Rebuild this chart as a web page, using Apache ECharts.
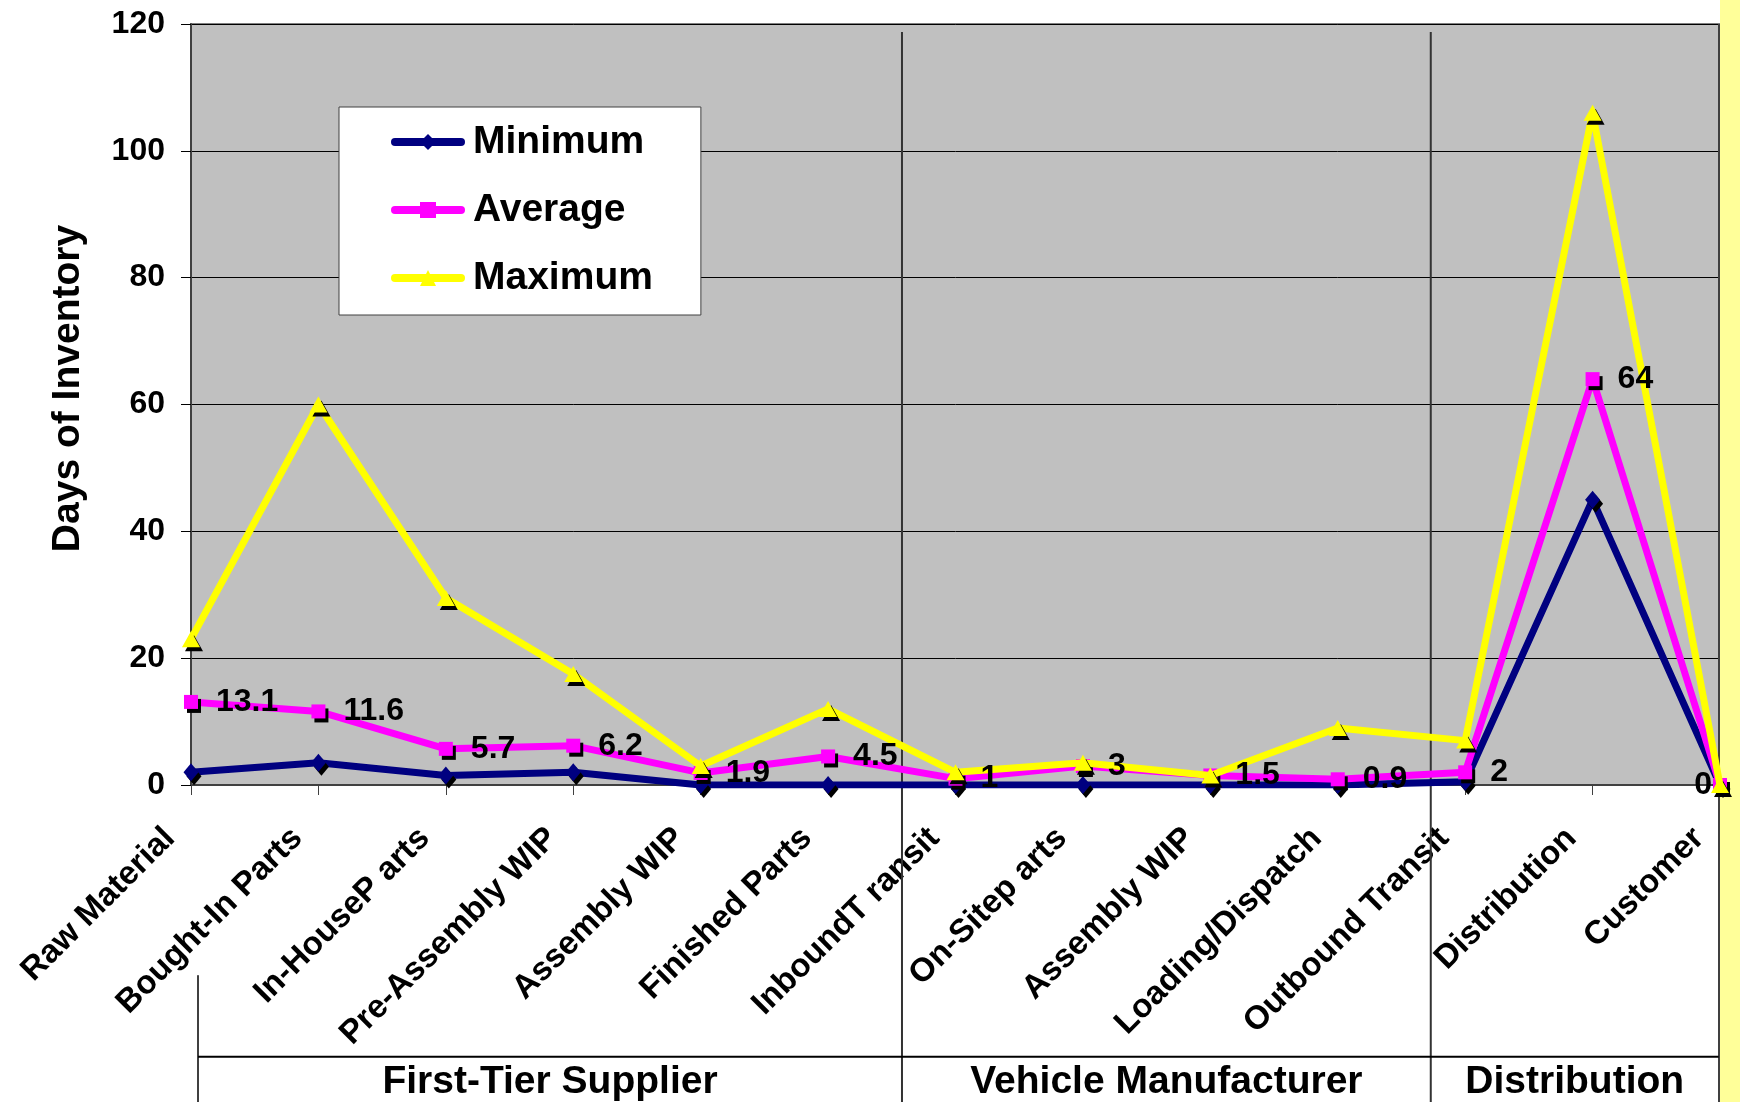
<!DOCTYPE html>
<html>
<head>
<meta charset="utf-8">
<script src="https://cdn.jsdelivr.net/npm/echarts@6/dist/echarts.min.js"></script>
<style>
html,body{margin:0;padding:0;background:#fff;}
#c{width:1740px;height:1102px;}
</style>
</head>
<body>
<div id="c"></div>
<script>
const categories = ['Raw Material','Bought-In Parts','In-HouseP arts','Pre-Assembly WIP','Assembly WIP','Finished Parts','InboundT ransit','On-Sitep arts','Assembly WIP','Loading/Dispatch','Outbound Transit','Distribution','Customer'];
const minimum = [2, 3.5, 1.5, 2, 0, 0, 0, 0, 0, 0, 0.5, 45, 0];
const average = [13.1, 11.6, 5.7, 6.2, 1.9, 4.5, 1, 3, 1.5, 0.9, 2, 64, 0];
const maximum = [23, 60, 29.5, 17.5, 3, 12, 2, 3.5, 1.5, 9, 7, 106, 0];
const yTicks = [0, 20, 40, 60, 80, 100, 120];
const groupNames = ['First-Tier Supplier', 'Vehicle Manufacturer', 'Distribution'];
const groupBounds = [0.055, 5.58, 9.73, 11.99];

const FONT = "'Liberation Sans', Arial, sans-serif";
const chart = echarts.init(document.getElementById('c'), null, {renderer: 'canvas'});

const shadow = {shadowColor: '#000', shadowBlur: 0, shadowOffsetX: 3, shadowOffsetY: 4};
const labelStyle = {fontSize: 32, fontWeight: 'bold', color: '#000', fontFamily: FONT, opacity: 1};

const option = {
  backgroundColor: '#ffffff',
  animation: false,
  grid: {
    left: 191, right: 20, top: 24, bottom: 317,
    show: true, backgroundColor: '#C0C0C0', borderColor: '#808080', borderWidth: 2
  },
  legend: {
    orient: 'vertical',
    left: 339, top: 107,
    backgroundColor: '#ffffff',
    borderColor: '#404040', borderWidth: 1,
    padding: [15, 48, 17, 52],
    itemGap: 28,
    itemWidth: 66, itemHeight: 20,
    lineStyle: {width: 8, cap: 'round'},
    itemStyle: {shadowColor: 'rgba(0,0,0,0)', shadowOffsetX: 0, shadowOffsetY: 0},
    textStyle: {fontSize: 39, fontWeight: 'bold', color: '#000', fontFamily: FONT, lineHeight: 40, padding: [0, 0, 0, 7]},
    data: ['Minimum', 'Average', 'Maximum']
  },
  xAxis: {
    type: 'category',
    data: categories,
    boundaryGap: false,
    axisLine: {show: true, lineStyle: {color: '#404040', width: 2}},
    axisTick: {show: true, length: 10, lineStyle: {color: '#404040', width: 1}},
    axisLabel: {
      interval: 0, rotate: 45, margin: 27,
      fontSize: 33, fontWeight: 'bold', color: '#000', fontFamily: FONT,
      padding: [0, 30, 0, 0]
    },
    splitLine: {show: false}
  },
  yAxis: {
    type: 'value',
    min: yTicks[0], max: yTicks[yTicks.length - 1], interval: 20,
    name: 'Days of Inventory',
    nameLocation: 'middle',
    nameGap: 103,
    nameTextStyle: {fontSize: 39, fontWeight: 'bold', color: '#000', fontFamily: FONT, padding: [0, 0, 0, 32]},
    axisLine: {show: true, lineStyle: {color: '#404040', width: 2}},
    axisTick: {show: true, length: 10, lineStyle: {color: '#000', width: 1}},
    axisLabel: {margin: 26, fontSize: 32, fontWeight: 'bold', color: '#000', fontFamily: FONT},
    splitLine: {show: true, lineStyle: {color: '#000', width: 1}}
  },
  series: [
    {
      name: 'Minimum', type: 'line', data: minimum,
      symbol: 'diamond', symbolSize: [15, 18],
      lineStyle: {color: '#000080', width: 7},
      itemStyle: Object.assign({color: '#000080'}, shadow),
      z: 2
    },
    {
      name: 'Average', type: 'line', data: average,
      symbol: 'rect', symbolSize: 14,
      lineStyle: {color: '#FF00FF', width: 7},
      itemStyle: Object.assign({color: '#FF00FF'}, shadow),
      z: 3
    },
    {
      name: 'Maximum', type: 'line', data: maximum,
      symbol: 'triangle', symbolSize: [18, 16],
      lineStyle: {color: '#FFFF00', width: 7},
      itemStyle: Object.assign({color: '#FFFF00'}, shadow),
      z: 4
    },
    {
      name: 'Average labels', type: 'line',
      data: average.map((v, i) => i === average.length - 1 ? {value: v, label: {position: 'left', distance: 1}} : v),
      symbol: 'rect', symbolSize: 14,
      showAllSymbol: true,
      lineStyle: {color: 'rgba(0,0,0,0)', width: 0},
      itemStyle: {color: 'rgba(0,0,0,0)', borderWidth: 0},
      label: Object.assign({show: true, position: 'right', distance: 18, formatter: '{c}'}, labelStyle),
      silent: true,
      z: 6
    }
  ]
};
chart.setOption(option);

function decor() {
  const x0 = chart.convertToPixel({xAxisIndex: 0}, 0);
  const x12 = chart.convertToPixel({xAxisIndex: 0}, 12);
  const step = (x12 - x0) / 12;
  const yTop = chart.convertToPixel({yAxisIndex: 0}, 120);
  const yBot = chart.convertToPixel({yAxisIndex: 0}, 0);
  const W = chart.getWidth(), H = chart.getHeight();
  const below = H - yBot;
  const xs = groupBounds.map(b => x0 + step * b);
  const hLineY = yBot + below * 0.857;
  const textY = yBot + below * 0.937;
  const els = [];
  els.push({type: 'rect', z: 1, silent: true, shape: {x: x12, y: 0, width: W - x12, height: H}, style: {fill: '#FFFF99'}});
  els.push({type: 'line', z: 1, silent: true, shape: {x1: x12 - 1, y1: yTop, x2: x12 - 1, y2: H}, style: {stroke: '#404040', lineWidth: 2}});
  els.push({type: 'line', z: 1, silent: true, shape: {x1: xs[0], y1: yBot + below * 0.6, x2: xs[0], y2: H}, style: {stroke: '#404040', lineWidth: 2}});
  for (let k = 1; k < xs.length - 1; k++) {
    els.push({type: 'line', z: 1, silent: true, shape: {x1: xs[k], y1: yTop + 8, x2: xs[k], y2: H}, style: {stroke: '#333333', lineWidth: 2}});
  }
  els.push({type: 'line', z: 1, silent: true, shape: {x1: xs[0], y1: hLineY, x2: xs[xs.length - 1], y2: hLineY}, style: {stroke: '#000', lineWidth: 2}});
  groupNames.forEach((n, k) => {
    els.push({type: 'text', z: 5, silent: true,
      style: {text: n, x: (xs[k] + xs[k + 1]) / 2, y: textY, align: 'center', verticalAlign: 'middle',
        textAlign: 'center', textVerticalAlign: 'middle',
        fontSize: 39, fontWeight: 'bold', fontFamily: FONT, fill: '#000'}});
  });
  chart.setOption({graphic: {elements: els}});
}
decor();
</script>
</body>
</html>
